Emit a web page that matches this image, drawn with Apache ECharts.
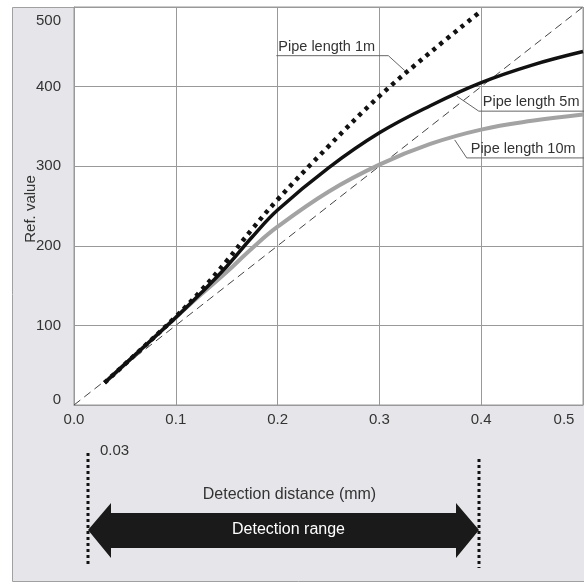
<!DOCTYPE html>
<html>
<head>
<meta charset="utf-8">
<script src="https://cdn.jsdelivr.net/npm/echarts@6/dist/echarts.min.js"></script>
<style>
  html, body { margin: 0; padding: 0; background: #fff; }
  #main { width: 584px; height: 586px; }
</style>
</head>
<body>
<div id="main"></div>
<script>
// values
var xTicks = [0, 0.1, 0.2, 0.3, 0.4, 0.5];
var yTicks = [0, 100, 200, 300, 400, 500];

var refX = [0, 0.5];
var refY = [0, 500];

var x1m = [0.03, 0.06, 0.1, 0.125, 0.15, 0.175, 0.2, 0.25, 0.3, 0.35, 0.4];
var pipe1m = [28, 63, 111, 144, 181, 221, 258, 325, 388, 443, 495];

var x5m = [0.03, 0.06, 0.1, 0.125, 0.15, 0.175, 0.2, 0.25, 0.3, 0.35, 0.4, 0.45, 0.5];
var pipe5m = [28, 63, 110, 141, 174, 211, 245, 298, 342, 376, 405, 427, 444];

var x10m = [0.03, 0.06, 0.1, 0.125, 0.15, 0.175, 0.2, 0.25, 0.3, 0.35, 0.4, 0.45, 0.5];
var pipe10m = [28, 63, 110, 139, 167, 197, 224, 268, 302, 328, 346, 357, 365];

var detectRange = [0.03, 0.4];

// where each "Pipe length" callout touches its curve
var labels = [
    { text: "Pipe length 1m", at: [0.325, 420], side: "left" },
    { text: "Pipe length 5m", at: [0.376, 388], side: "right", dx: 22, dy: 15 },
    { text: "Pipe length 10m", at: [0.374, 333], side: "right", dx: 12, dy: 18 },
];

function pairs(xs, ys) {
    return xs.map(function (x, i) { return [x, ys[i]]; });
}

var FONT = "'Liberation Sans', Arial, sans-serif";
var TXT = "#333";
var GRIDC = "#999";

var myChart = echarts.init(document.getElementById("main"), null, { renderer: "canvas" });

var option = {
    backgroundColor: "#fff",
    animation: false,
    textStyle: { fontFamily: FONT },
    graphic: [
        {
            type: "rect",
            z: -10,
            shape: { x: 12.5, y: 7.5, width: 600, height: 574 },
            style: { fill: "#e6e6ea", stroke: "#a0a0a0", lineWidth: 1 },
        },
        {
            type: "text",
            x: 31, y: 209, rotation: Math.PI / 2,
            style: {
                text: "Ref. value", fill: TXT, font: "15px " + FONT,
                align: "center", verticalAlign: "middle",
            },
        },
    ],
    grid: [
        {
            left: 74, top: 7, right: 1, height: 398,
            show: true, backgroundColor: "#fff", borderColor: GRIDC, borderWidth: 1,
            outerBoundsMode: "none",
        },
        {
            left: 88, right: 105, top: 440, height: 140,
            outerBoundsMode: "none",
        },
    ],
    xAxis: [
        {
            type: "value", gridIndex: 0,
            min: xTicks[0], max: xTicks[xTicks.length - 1], interval: 0.1,
            axisLine: { show: true, lineStyle: { color: GRIDC } },
            axisTick: { show: false },
            splitLine: { show: true, lineStyle: { color: GRIDC, width: 1 } },
            axisLabel: {
                margin: 7, fontSize: 15, color: TXT, fontFamily: FONT,
                formatter: function (v) {
                    var s = v.toFixed(1);
                    return Math.abs(v - 0.5) < 1e-9 ? "{e|" + s + "}" : s;
                },
                rich: { e: { fontSize: 15, color: TXT, fontFamily: FONT, padding: [0, 38, 0, 0] } },
            },
        },
        {
            type: "value", gridIndex: 1, show: false,
            min: detectRange[0], max: detectRange[1],
        },
    ],
    yAxis: [
        {
            type: "value", gridIndex: 0,
            min: yTicks[0], max: yTicks[yTicks.length - 1], interval: 100,
            axisLine: { show: true, lineStyle: { color: GRIDC } },
            axisTick: { show: false },
            splitLine: { show: true, lineStyle: { color: GRIDC, width: 1 } },
            axisLabel: {
                margin: 13, fontSize: 15, color: TXT, fontFamily: FONT,
                formatter: function (v) {
                    if (v === 500) return "{t|500}";
                    if (v === 0) return "{b|0}";
                    return String(v);
                },
                rich: {
                    t: { fontSize: 15, color: TXT, fontFamily: FONT, padding: [28, 0, 0, 0] },
                    b: { fontSize: 15, color: TXT, fontFamily: FONT, padding: [0, 0, 10, 0] },
                },
            },
        },
        { type: "value", gridIndex: 1, show: false, min: 0, max: 1 },
    ],
    series: [
        {
            name: "Reference", type: "line", xAxisIndex: 0, yAxisIndex: 0,
            data: pairs(refX, refY), showSymbol: false, silent: true,
            lineStyle: { color: "#444", width: 1, type: [8, 5] },
        },
        {
            name: "Pipe length 10m", type: "line", data: pairs(x10m, pipe10m),
            showSymbol: false, smooth: 0.4,
            lineStyle: { color: "#a3a3a3", width: 4, cap: "butt" },
        },
        {
            name: "Pipe length 5m", type: "line", data: pairs(x5m, pipe5m),
            showSymbol: false, smooth: 0.4,
            lineStyle: { color: "#111", width: 3.5, cap: "butt" },
        },
        {
            name: "Pipe length 1m", type: "line", data: pairs(x1m, pipe1m),
            showSymbol: false, smooth: 0.4,
            lineStyle: { color: "#111", width: 4.5, type: [4, 5], cap: "butt" },
        },
        {
            name: "Detection range", type: "custom", xAxisIndex: 1, yAxisIndex: 1,
            clip: false, silent: true,
            data: [detectRange],
            renderItem: function (params, api) {
                var cs = params.coordSys;
                var xa = api.coord([api.value(0), 0])[0];
                var xb = api.coord([api.value(1), 0])[0];
                var top = cs.y;
                var cy = top + 90;
                var h = 23;
                return {
                    type: "group",
                    children: [
                        {
                            type: "line",
                            shape: { x1: xa, y1: top + 13, x2: xa, y2: top + 124 },
                            style: { stroke: "#111", lineWidth: 3, lineDash: [3, 3] },
                        },
                        {
                            type: "line",
                            shape: { x1: xb, y1: top + 19, x2: xb, y2: top + 128 },
                            style: { stroke: "#111", lineWidth: 3, lineDash: [3, 3] },
                        },
                        {
                            type: "polygon",
                            shape: {
                                points: [
                                    [xa, cy], [xa + h, cy - 27], [xa + h, cy - 17],
                                    [xb - h, cy - 17], [xb - h, cy - 27], [xb, cy],
                                    [xb - h, cy + 28], [xb - h, cy + 18],
                                    [xa + h, cy + 18], [xa + h, cy + 28],
                                ],
                            },
                            style: { fill: "#1a1a1a" },
                        },
                        {
                            type: "text",
                            style: {
                                x: (xa + xb) / 2 + 5, y: cy, text: "Detection range",
                                fill: "#fff", font: "16px " + FONT,
                                align: "center", verticalAlign: "middle",
                            },
                        },
                        {
                            type: "text",
                            style: {
                                x: (xa + xb) / 2 + 6, y: top + 55, text: "Detection distance (mm)",
                                fill: TXT, font: "16px " + FONT,
                                align: "center", verticalAlign: "middle",
                            },
                        },
                        {
                            type: "text",
                            style: {
                                x: xa + 12, y: top + 11, text: String(api.value(0)),
                                fill: TXT, font: "15px " + FONT,
                                align: "left", verticalAlign: "middle",
                            },
                        },
                    ],
                };
            },
        },
    ],
};
option && myChart.setOption(option);

// callouts for the three pipe lengths, anchored on the curves
var callouts = [];
labels.forEach(function (lb) {
    var p = myChart.convertToPixel({ gridIndex: 0 }, lb.at);
    var knee, lineEnd, textX;
    if (lb.side === "left") {
        knee = [p[0] - 16.5, p[1] - 15];
        lineEnd = [knee[0] - 112, knee[1]];
        textX = lineEnd[0] + 2;
    } else {
        knee = [p[0] + lb.dx, p[1] + lb.dy];
        lineEnd = [590, knee[1]];
        textX = knee[0] + 4;
    }
    callouts.push({
        type: "polyline", z: 50,
        shape: { points: [p, knee, lineEnd] },
        style: { stroke: "#666", lineWidth: 1, fill: null },
    });
    callouts.push({
        type: "text", z: 50,
        style: {
            x: textX, y: knee[1] - 9, text: lb.text,
            fill: TXT, font: "14.5px " + FONT,
            align: "left", verticalAlign: "middle",
        },
    });
});
myChart.setOption({ graphic: option.graphic.concat(callouts) }, { replaceMerge: [] });
</script>
</body>
</html>
